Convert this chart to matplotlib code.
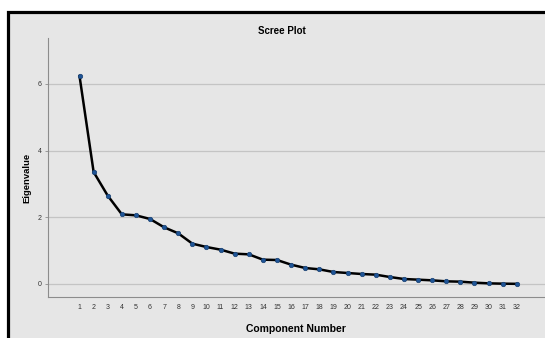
import matplotlib.pyplot as plt
from matplotlib.patches import Rectangle

# eigenvalues
components = list(range(1, 33))
eigenvalues = [6.24, 3.36, 2.65, 2.09, 2.06, 1.95, 1.70, 1.52, 1.21, 1.11,
               1.03, 0.91, 0.89, 0.73, 0.72, 0.58, 0.48, 0.44, 0.36, 0.33,
               0.30, 0.28, 0.21, 0.15, 0.13, 0.11, 0.08, 0.07, 0.04, 0.02,
               0.01, 0.005]
y_ticks = [0, 2, 4, 6]

plt.rcParams['font.family'] = ['Liberation Sans', 'DejaVu Sans']

fig = plt.figure(figsize=(5.45, 3.38), dpi=100)
fig.patch.set_facecolor('white')

# grey panel with a thick black frame, cut off at right and bottom
panel = Rectangle((7.5 / 545, -0.1), 1.2, (338 - 12) / 338 + 0.1,
                  transform=fig.transFigure, facecolor='#e6e6e6',
                  edgecolor='black', linewidth=2.3, zorder=-1)
fig.patches.append(panel)

ax = fig.add_axes([47.5 / 545, 41 / 338, 1 - 47.5 / 545, (297 - 38) / 338])
ax.set_facecolor('none')
ax.set_zorder(1)

ax.plot(components, eigenvalues, color='black', linewidth=1.8, zorder=3)
ax.plot(components, eigenvalues, linestyle='none', marker='o',
        markersize=3.2, markerfacecolor='#1f5597', markeredgecolor='#173f70',
        markeredgewidth=0.5, zorder=4)

ax.set_xlim(-1.27, 34.0)
ax.set_ylim(-0.39, 7.38)
ax.set_xticks(components)
ax.set_yticks(y_ticks)
ax.yaxis.grid(True, color='#c4c4c4', linewidth=0.9)
ax.set_axisbelow(True)

for side in ['top', 'right']:
    ax.spines[side].set_visible(False)
for side in ['left', 'bottom']:
    ax.spines[side].set_color('#8c8c8c')
    ax.spines[side].set_linewidth(0.8)

ax.tick_params(axis='x', length=0, labelsize=5, pad=5, labelcolor='#333333')
ax.tick_params(axis='y', length=2, width=0.6, color='#8c8c8c', labelsize=5,
               pad=2, labelcolor='#333333')

fig.text(296 / 545, 1 - 329 / 338, 'Component Number', fontsize=7.5,
         fontweight='bold', ha='center', va='center')
fig.text(27 / 545, 1 - 178 / 338, 'Eigenvalue', rotation=90, fontsize=6.8,
         fontweight='bold', ha='center', va='center')
fig.text(282 / 545, 1 - 30.5 / 338, 'Scree Plot', fontsize=7, fontweight='bold',
         ha='center', va='center')

fig.savefig('out.png', dpi=100)
